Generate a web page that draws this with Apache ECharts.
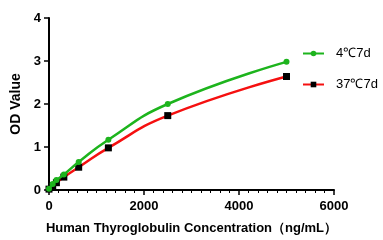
<!DOCTYPE html>
<html>
<head>
<meta charset="utf-8">
<script src="https://cdn.jsdelivr.net/npm/echarts@6/dist/echarts.min.js"></script>
<style>
  html, body { margin: 0; padding: 0; background: #fff; }
  #chart { width: 383px; height: 240px; }
</style>
</head>
<body>
<div id="chart"></div>
<script>
// concentration (ng/mL)
var conc = [0, 78, 156, 312.5, 625, 1250, 2500, 5000];
var od4 = [0.03, 0.14, 0.23, 0.36, 0.65, 1.17, 2.0, 2.98]; // 4℃7d
var od37 = [0.02, 0.1, 0.17, 0.3, 0.53, 0.98, 1.73, 2.64]; // 37℃7d
var xTicks = [0, 2000, 4000, 6000];
var yTicks = [0, 1, 2, 3, 4];

function pairs(xs, ys) {
  return xs.map(function (x, i) { return [x, ys[i]]; });
}

var myChart = echarts.init(document.getElementById("chart"));

var axisFont = { color: "#000", fontWeight: "bold", fontSize: 13, fontFamily: "Liberation Sans, Arial" };

var option = {
  animation: false,
  grid: { left: 49, right: 49, top: 18, bottom: 46 },
  legend: {
    left: 297,
    top: 42,
    orient: "vertical",
    itemWidth: 21,
    itemHeight: 7,
    itemGap: 18,
    textStyle: { fontSize: 13, color: "#000", fontFamily: "Liberation Sans, Arial", padding: [0, 0, 0, 7] },
    data: ["4℃7d", "37℃7d"]
  },
  xAxis: {
    type: "value",
    min: xTicks[0],
    max: xTicks[xTicks.length - 1],
    interval: 2000,
    name: "Human Thyroglobulin Concentration（ng/mL）",
    nameLocation: "middle",
    nameGap: 32,
    nameTextStyle: { color: "#000", fontWeight: "bold", fontSize: 13, fontFamily: "Liberation Sans, Arial" },
    axisLine: { lineStyle: { color: "#000", width: 2 } },
    axisTick: { length: 5, lineStyle: { width: 1.5 } },
    minorTick: { show: true, splitNumber: 10, length: 3, lineStyle: { color: "#000", width: 1 } },
    axisLabel: Object.assign({ margin: 10, formatter: function (v) { return String(v); } }, axisFont),
    splitLine: { show: false }
  },
  yAxis: {
    type: "value",
    min: yTicks[0],
    max: yTicks[yTicks.length - 1],
    interval: 1,
    name: "OD Value",
    nameLocation: "middle",
    nameGap: 19,
    nameTextStyle: { color: "#000", fontWeight: "bold", fontSize: 14, fontFamily: "Liberation Sans, Arial" },
    axisLine: { show: true, lineStyle: { color: "#000", width: 2 } },
    axisTick: { show: true, length: 5, lineStyle: { width: 1.5 } },
    axisLabel: Object.assign({ margin: 8 }, axisFont),
    splitLine: { show: false }
  },
  series: [
    {
      name: "4℃7d",
      type: "line",
      data: pairs(conc, od4),
      smooth: 0.5,
      symbol: "circle",
      symbolSize: 6,
      itemStyle: { color: "#1db41d" },
      lineStyle: { color: "#1db41d", width: 2.5 },
      z: 3
    },
    {
      name: "37℃7d",
      type: "line",
      data: pairs(conc, od37),
      smooth: 0.5,
      symbol: "rect",
      symbolSize: 7,
      itemStyle: { color: "#000" },
      lineStyle: { color: "#f51010", width: 2.5 },
      z: 2
    }
  ]
};

myChart.setOption(option);
</script>
</body>
</html>
